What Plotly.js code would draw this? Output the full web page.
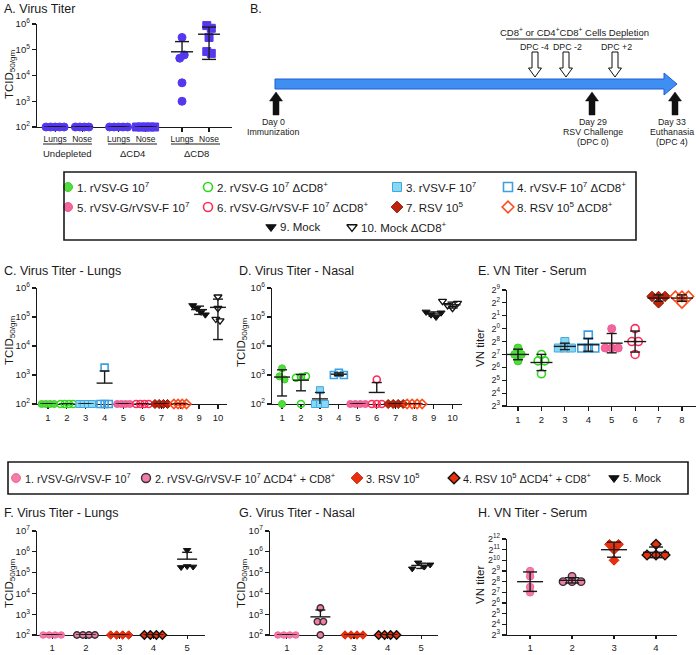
<!DOCTYPE html>
<html><head><meta charset="utf-8">
<script src="https://cdn.plot.ly/plotly-3.0.1.min.js"></script>
<style>html,body{margin:0;padding:0;background:#fff}#chart{width:696px;height:655px}</style>
</head><body><div id="chart"></div>
<script>
// ================= DATA =================
// Panel A – virus titer (TCID50/gm)
const aCategories = ['Lungs','Nose','Lungs','Nose','Lungs','Nose'];
const aGroupLabels = ['Undepleted','ΔCD4','ΔCD8'];
const aUndepLungs = [100,100,100,100,100];
const aUndepNose  = [100,100,100,100];
const aCD4Lungs   = [100,100,100,100,100];
const aCD4Nose    = [100,100,100,100,100];
const aCD8Lungs   = [300000,47000,63000,5200,1000];
const aCD8Nose    = [870000,680000,300000,85000,72000];

// Panels C-E groups
const cdeGroups = ['1','2','3','4','5','6','7','8','9','10'];
const cdeLegend = ['1. rVSV-G 10<sup>7</sup>','2. rVSV-G 10<sup>7</sup> ΔCD8<sup>+</sup>','3. rVSV-F 10<sup>7</sup>','4. rVSV-F 10<sup>7</sup> ΔCD8<sup>+</sup>',
  '5. rVSV-G/rVSV-F 10<sup>7</sup>','6. rVSV-G/rVSV-F 10<sup>7</sup> ΔCD8<sup>+</sup>','7. RSV 10<sup>5</sup>','8. RSV 10<sup>5</sup> ΔCD8<sup>+</sup>',
  '9. Mock','10. Mock ΔCD8<sup>+</sup>'];
// C – lungs titer
const cLungs = [
  [100,100,100,100],[100,100,100,100],[100,100,100,100],[1800,100,100,100],
  [100,100,100,100],[100,100,100,100],[100,100,100,100],[100,100,100,100],
  [250000,200000,150000,120000],[500000,200000,85000,75000]];
// D – nasal titer
const dNasal = [
  [1700,900,700,100],[800,850,900,100],[300,100,100,100],[1000,1200,1000],
  [100,100,100,100],[700,100,100,100],[100,100,100,100],[100,100,100,100],
  [150000,120000,100000,140000],[350000,250000,200000,300000,220000]];
// E – VN titer (log2)
const eVNlog2 = [
  [7.5,7,7,6.5],[7,6.5,6.5,5.5],[8,7.5,7.5,7.5],[8.5,7.5,7.5,7.5],
  [9,7.5,7.5,7.5],[9,8,8,7],[11.5,11.5,11.5,11],[11.5,11.5,11.5,11]];
const eTickText = ['2<sup>3</sup>','2<sup>4</sup>','2<sup>5</sup>','2<sup>6</sup>','2<sup>7</sup>','2<sup>8</sup>','2<sup>0</sup>','2<sup>1</sup>','2<sup>2</sup>','2<sup>9</sup>'];

// Panels F-H groups
const fghGroups = ['1','2','3','4','5'];
const fghLegend = ['1. rVSV-G/rVSV-F 10<sup>7</sup>','2. rVSV-G/rVSV-F 10<sup>7</sup> ΔCD4<sup>+</sup> + CD8<sup>+</sup>','3. RSV 10<sup>5</sup>','4. RSV 10<sup>5</sup> ΔCD4<sup>+</sup> + CD8<sup>+</sup>','5. Mock'];
const fLungs = [[100,100,100,100],[100,100,100,100],[100,100,100,100],[100,100,100,100],[1200000,180000,200000,190000]];
const gNasal = [[100,100,100,100],[2000,440,440,100],[100,100,100,100],[100,100,100,100],[155000,300000,190000,240000]];
const hVNlog2 = [[9,8.5,7,7.5],[8.5,8,8,8],[11.5,11,11.5,10],[11.5,10.5,10.5,10.5]];
const hTickText = ['2<sup>3</sup>','2<sup>4</sup>','2<sup>5</sup>','2<sup>6</sup>','2<sup>7</sup>','2<sup>8</sup>','2<sup>9</sup>','2<sup>10</sup>','2<sup>11</sup>','2<sup>12</sup>'];

// Panel B timeline labels
const bDepletion = 'CD8<sup>+</sup> or CD4<sup>+</sup>CD8<sup>+</sup> Cells Depletion';
const bDpc = ['DPC -4','DPC -2','DPC +2'];
const bDays = [['Day 0','Immunization'],['Day 29','RSV Challenge','(DPC 0)'],['Day 33','Euthanasia','(DPC 4)']];

// ================= STYLES / LAYOUT =================
const W=696,H=655;
const fx=p=>p/W, fy=p=>1-p/H;
const FONT='Liberation Sans, Arial, Helvetica, sans-serif';
const INK='#1a1a1a';
const traces=[];
const layout={width:W,height:H,margin:{l:0,r:0,t:0,b:0},paper_bgcolor:'#fff',plot_bgcolor:'rgba(0,0,0,0)',
  showlegend:false,font:{family:FONT,color:INK},annotations:[],shapes:[]};

function axes(n,xpx,ypx,xopt,yopt){
  const s=n===1?'':String(n);
  const common={showline:true,linecolor:INK,linewidth:1.2,ticks:'outside',ticklen:4,tickwidth:1.2,tickcolor:INK,
    showgrid:false,zeroline:false,tickfont:{size:9.5,family:FONT,color:INK},fixedrange:true,layer:'below traces'};
  layout['xaxis'+s]=Object.assign({},common,{domain:[fx(xpx[0]),fx(xpx[1])],anchor:'y'+s},xopt);
  layout['yaxis'+s]=Object.assign({},common,{domain:[fy(ypx[1]),fy(ypx[0])],anchor:'x'+s},yopt);
  return {x:'x'+s,y:'y'+s};
}
const pow10=[2,3,4,5,6,7].map(e=>Math.pow(10,e));
const pow10txt=[2,3,4,5,6,7].map(e=>'10<sup>'+e+'</sup>');
function logY(maxE){return {type:'log',range:[2,maxE],tickvals:pow10.slice(0,maxE-1),ticktext:pow10txt.slice(0,maxE-1)};}
function catX(range,labels,extra){return Object.assign({range:range,tickvals:labels.map((_,i)=>i+1),ticktext:labels},extra||{});}
const shortTick={ticklen:3};

const axA=axes(1,[37,232],[24,127],{range:[-0.67,6.55],tickvals:[0,1,2.35,3.35,4.7,5.7],ticktext:aCategories,tickfont:{size:8.5,family:FONT,color:INK}},logY(6));
const axC=axes(2,[37,227],[288,404],catX([0.42,10.48],cdeGroups),logY(6));
const axD=axes(3,[272,462],[288,404],catX([0.47,10.5],cdeGroups),logY(6));
const axE=axes(4,[507,696],[290,406],catX([0.53,8.6],cdeGroups.slice(0,8)),{range:[3,12],tickvals:[3,4,5,6,7,8,9,10,11,12],ticktext:eTickText,tickfont:{size:9,family:FONT,color:INK}});
const axF=axes(5,[37,205],[531,635],catX([0.55,5.53],fghGroups,shortTick),logY(7));
const axG=axes(6,[270,438],[531,635],catX([0.5,5.5],fghGroups,shortTick),logY(7));
const axH=axes(7,[507,677],[539,635],catX([0.45,4.5],fghGroups.slice(0,4),shortTick),{range:[3,12],tickvals:[3,4,5,6,7,8,9,10,11,12],ticktext:hTickText,tickfont:{size:9,family:FONT,color:INK}});
// pixel overlay axis for decorations
layout.xaxis8={domain:[0,1],range:[0,W],visible:false,fixedrange:true,anchor:'y8'};
layout.yaxis8={domain:[0,1],range:[H,0],visible:false,fixedrange:true,anchor:'x8'};

const styleCDE=[
 {symbol:'circle',color:'#52dc3e',line:'#3fcf2c',lw:1},
 {symbol:'circle-open',color:'#2fd81d',line:'#2fd81d',lw:1.6},
 {symbol:'square',color:'#88d8f2',line:'#40a8e0',lw:1},
 {symbol:'square-open',color:'#3d9fe0',line:'#3d9fe0',lw:1.6},
 {symbol:'circle',color:'#f2669b',line:'#ee5a8e',lw:1},
 {symbol:'circle-open',color:'#ff2a58',line:'#ff2a58',lw:1.6},
 {symbol:'diamond',color:'#c0220a',line:'#8c1400',lw:1},
 {symbol:'diamond-open',color:'#ff4a1c',line:'#ff4a1c',lw:1.6},
 {symbol:'triangle-down',color:'#111',line:'#111',lw:1},
 {symbol:'triangle-down-open',color:'#111',line:'#111',lw:1.3}];
const styleFGH=[
 {symbol:'circle',color:'#f47aa8',line:'#f06a9c',lw:1},
 {symbol:'circle',color:'#f47aa8',line:'#333',lw:1.4},
 {symbol:'diamond',color:'#e8300c',line:'#d42208',lw:1},
 {symbol:'diamond',color:'#e8300c',line:'#111',lw:1.4},
 {symbol:'triangle-down',color:'#111',line:'#111',lw:1}];
const blue='#5438f0';
const styleA=[
 {symbol:'circle',color:blue,line:blue,lw:1},{symbol:'circle',color:blue,line:blue,lw:1},
 {symbol:'circle',color:blue,line:blue,lw:1},{symbol:'square',color:blue,line:blue,lw:1},
 {symbol:'circle',color:blue,line:blue,lw:1},{symbol:'square',color:blue,line:blue,lw:1}];

// spread points with overlapping values horizontally
function spread(vals,toPx,thr,stepUnits){
  const idx=vals.map((v,i)=>i).sort((a,b)=>toPx(vals[a])-toPx(vals[b]));
  const clusters=[];let cur=[idx[0]];
  for(let k=1;k<idx.length;k++){
    if(Math.abs(toPx(vals[idx[k]])-toPx(vals[idx[k-1]]))<thr)cur.push(idx[k]);else{clusters.push(cur);cur=[idx[k]];}
  }
  clusters.push(cur);
  const off=new Array(vals.length).fill(0);
  clusters.forEach(c=>{c.sort((a,b)=>a-b);c.forEach((i,j)=>{off[i]=(j-(c.length-1)/2)*stepUnits;});});
  return off;
}
function addPanel(ax,groups,styles,xs,cfg){
  const toPx=cfg.log?(v=>Math.log10(v)*cfg.pyU):(v=>v*cfg.pyU);
  groups.forEach((vals,g)=>{
    const off=spread(vals,toPx,cfg.thr,cfg.step/cfg.pxU);
    const st=styles[g];
    traces.push({type:'scatter',mode:'markers',xaxis:ax.x,yaxis:ax.y,cliponaxis:false,hoverinfo:'skip',
      x:vals.map((v,i)=>xs[g]+off[i]),y:vals,
      marker:{symbol:st.symbol,size:cfg.size,color:st.color,line:{color:st.line,width:st.lw}}});
  });
  groups.forEach((vals,g)=>{
    const n=vals.length,m=vals.reduce((a,b)=>a+b,0)/n;
    const sd=Math.sqrt(vals.reduce((a,b)=>a+(b-m)*(b-m),0)/(n-1));
    const x=xs[g],mw=cfg.meanW/cfg.pxU,cw=cfg.capW/cfg.pxU,lo=m-sd,hi=m+sd;
    const X=[x-mw,x+mw,null],Y=[m,m,null];
    if(!(cfg.log&&lo<=0)){X.push(x,x,null,x-cw,x+cw,null);Y.push(lo,m,null,lo,lo,null);}
    X.push(x,x,null,x-cw,x+cw);Y.push(m,hi,null,hi,hi);
    traces.push({type:'scatter',mode:'lines',xaxis:ax.x,yaxis:ax.y,hoverinfo:'skip',x:X,y:Y,line:{color:INK,width:1.4}});
  });
}
const idx1=n=>Array.from({length:n},(_,i)=>i+1);
addPanel(axA,[aUndepLungs,aUndepNose,aCD4Lungs,aCD4Nose,aCD8Lungs,aCD8Nose],styleA,[0,1,2.35,3.35,4.7,5.7],
  {log:true,pyU:25.75,pxU:27,thr:6,step:4.5,size:8,meanW:11,capW:7});
addPanel(axC,cLungs,styleCDE,idx1(10),{log:true,pyU:29,pxU:18.9,thr:5.5,step:4.2,size:7,meanW:8,capW:5});
addPanel(axD,dNasal,styleCDE,idx1(10),{log:true,pyU:29,pxU:18.9,thr:5.5,step:5,size:7,meanW:8,capW:5});
addPanel(axE,eVNlog2,styleCDE,idx1(8),{log:false,pyU:12.9,pxU:23.4,thr:6,step:6.5,size:8,meanW:11,capW:5});
addPanel(axF,fLungs,styleFGH,idx1(5),{log:true,pyU:20.8,pxU:33.7,thr:5,step:6,size:6.5,meanW:10,capW:5});
addPanel(axG,gNasal,styleFGH,idx1(5),{log:true,pyU:20.8,pxU:33.7,thr:5,step:6,size:6.5,meanW:10,capW:5});
addPanel(axH,hVNlog2,styleFGH.slice(0,4),idx1(4),{log:false,pyU:10.7,pxU:42,thr:5,step:9,size:7.5,meanW:13,capW:7});

// ================= ANNOTATIONS & DECORATION =================
function txt(x,y,text,o){layout.annotations.push(Object.assign({xref:'x8',yref:'y8',x:x,y:y,text:text,showarrow:false,
  xanchor:'center',yanchor:'middle',font:{size:9,family:FONT,color:INK}},o||{}));}
function title(x,y,t){txt(x,y,t,{xanchor:'left',font:{size:12.5,family:FONT,color:INK}});}
function ytitle(x,y,t){txt(x,y,t,{textangle:-90,font:{size:11.5,family:FONT,color:INK}});}
function seg(x0,y0,x1,y1,w){layout.shapes.push({type:'line',xref:'x8',yref:'y8',x0,y0,x1,y1,line:{color:INK,width:w||1.2}});}
function path(d,fill,lc,lw){layout.shapes.push({type:'path',xref:'x8',yref:'y8',path:d,fillcolor:fill,line:{color:lc,width:lw}});}

title(2,9,'A. Virus Titer'); title(248,9,'B.');
title(2,271,'C. Virus Titer - Lungs'); title(237,271,'D. Virus Titer - Nasal'); title(476,271,'E. VN Titer - Serum');
title(2,513,'F. Virus Titer - Lungs'); title(237,513,'G. Virus Titer - Nasal'); title(476,513,'H. VN Titer - Serum');
const tcid='TCID<sub>50/gm</sub>';
ytitle(10,74,tcid); ytitle(10,340,tcid); ytitle(242,342,tcid); ytitle(480,348,'VN titer');
ytitle(10,583,tcid); ytitle(242,583,tcid); ytitle(480,585,'VN titer');

// Panel A group labels
[[43,92,67],[108,157,132],[171,220,196]].forEach((g,i)=>{seg(g[0],144,g[1],144,1.1);txt(g[2],153,aGroupLabels[i],{font:{size:9.5,family:FONT,color:INK}});});

// Panel B timeline
path('M275,79 L664,79 L664,73 L677,84 L664,95 L664,89 L275,89 Z','#3f8ef2','#1f5fd6',1);
[276,592,675].forEach(c=>path(`M${c},92 L${c+6.5},101 L${c+3},101 L${c+3},115 L${c-3},115 L${c-3},101 L${c-6.5},101 Z`,'#111','#111',0.5));
[535,566,615].forEach(c=>path(`M${c-3},52 L${c+3},52 L${c+3},68 L${c+6.5},68 L${c},77 L${c-6.5},68 L${c-3},68 Z`,'#fff','#111',1));
txt(574,32,bDepletion,{font:{size:9.5,family:FONT,color:INK}});
seg(506,39,643,39,1.1);
[534,567,616].forEach((c,i)=>txt(c,47,bDpc[i],{font:{size:8.8,family:FONT,color:INK}}));
const dayX=[273,593,672];
bDays.forEach((lines,i)=>lines.forEach((l,j)=>txt(dayX[i],122+j*10,l,{font:{size:8.8,family:FONT,color:INK}})));

// Legend 1
layout.shapes.push({type:'rect',xref:'x8',yref:'y8',x0:64,y0:172,x1:636,y1:240,line:{color:INK,width:1.6}});
const leg1Pos=[[68,187],[208,187],[397,187],[508,187],[68,207],[208,207],[397,207],[508,207],[271,227],[352,227]];
traces.push({type:'scatter',mode:'markers',xaxis:'x8',yaxis:'y8',hoverinfo:'skip',cliponaxis:false,
  x:leg1Pos.map(p=>p[0]),y:leg1Pos.map(p=>p[1]),
  marker:{size:9,symbol:styleCDE.map(s=>s.symbol),color:styleCDE.map(s=>s.color),line:{color:styleCDE.map(s=>s.line),width:styleCDE.map(s=>s.lw)}}});
cdeLegend.forEach((t,i)=>txt(leg1Pos[i][0]+7,leg1Pos[i][1],t,{xanchor:'left',font:{size:11.5,family:FONT,color:INK}}));

// Legend 2
layout.shapes.push({type:'rect',xref:'x8',yref:'y8',x0:8,y0:462,x1:688,y1:494,line:{color:INK,width:1.6}});
const leg2X=[16,146,357,454,614];
traces.push({type:'scatter',mode:'markers',xaxis:'x8',yaxis:'y8',hoverinfo:'skip',cliponaxis:false,
  x:leg2X,y:leg2X.map(()=>478),
  marker:{size:9,symbol:styleFGH.map(s=>s.symbol),color:styleFGH.map(s=>s.color),line:{color:styleFGH.map(s=>s.line),width:styleFGH.map(s=>s.lw)}}});
fghLegend.forEach((t,i)=>txt(leg2X[i]+7,478,t,{xanchor:'left',font:{size:10.8,family:FONT,color:INK}}));

Plotly.newPlot('chart',traces,layout,{staticPlot:true,displayModeBar:false});
</script></body></html>
